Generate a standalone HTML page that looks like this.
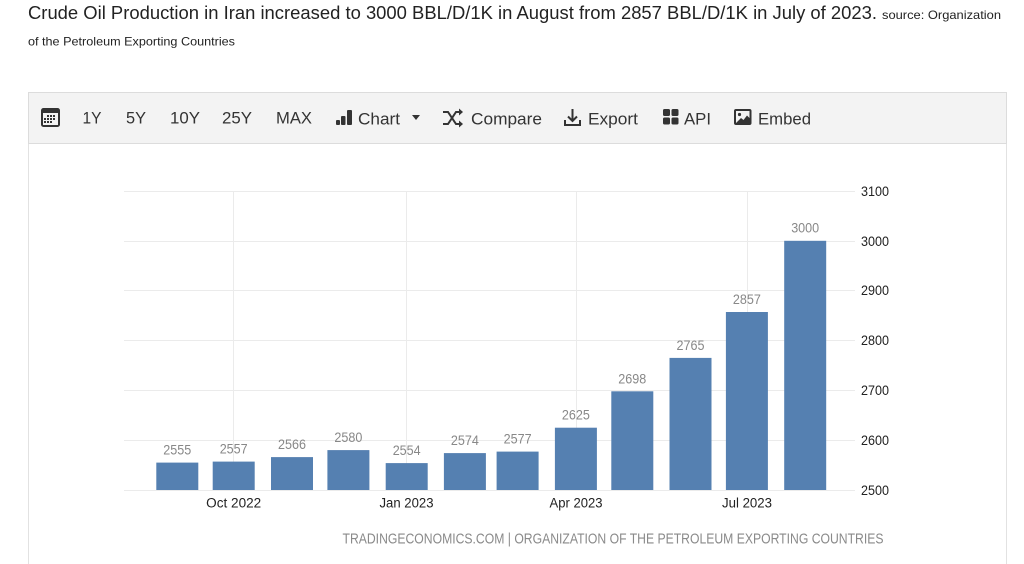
<!DOCTYPE html>
<html>
<head>
<meta charset="utf-8">
<style>
html,body{margin:0;padding:0;background:#fff;}
body{width:1024px;height:564px;overflow:hidden;}
svg{display:block;}
</style>
</head>
<body>
<svg width="1024" height="564" viewBox="0 0 1024 564" xmlns="http://www.w3.org/2000/svg" font-family="Liberation Sans, Arial, sans-serif">
  <rect x="0" y="0" width="1024" height="564" fill="#fff"/>
  <!-- Title -->
  <text x="28" y="19" font-size="18" fill="#222" textLength="849" lengthAdjust="spacingAndGlyphs">Crude Oil Production in Iran increased to 3000 BBL/D/1K in August from 2857 BBL/D/1K in July of 2023.</text>
  <text x="882" y="19" font-size="12" fill="#222" textLength="119" lengthAdjust="spacingAndGlyphs">source: Organization</text>
  <text x="28" y="45.5" font-size="12" fill="#222" textLength="207" lengthAdjust="spacingAndGlyphs">of the Petroleum Exporting Countries</text>

  <!-- Chart container -->
  <rect x="28.5" y="92.5" width="978" height="480" fill="#fff" stroke="#e2e2e2" stroke-width="1"/>
  <rect x="28.5" y="92.5" width="978" height="51" fill="#f3f3f3" stroke="#dcdcdc" stroke-width="1"/>

  <!-- Toolbar icons & labels -->
  <g fill="#333">
    <!-- calendar -->
    <rect x="41" y="108" width="19" height="19" rx="2.5" fill="#333"/>
    <rect x="43" y="113" width="15" height="12" fill="#f3f3f3"/>
    <g fill="#333">
      <rect x="47" y="115" width="2" height="2"/><rect x="50" y="115" width="2" height="2"/><rect x="53" y="115" width="2" height="2"/>
      <rect x="44" y="118" width="2" height="2"/><rect x="47" y="118" width="2" height="2"/><rect x="50" y="118" width="2" height="2"/><rect x="53" y="118" width="2" height="2"/>
      <rect x="44" y="121" width="2" height="2"/><rect x="47" y="121" width="2" height="2"/><rect x="50" y="121" width="2" height="2"/>
    </g>
    <text x="82.5" y="123.5" font-size="17" textLength="19" lengthAdjust="spacingAndGlyphs">1Y</text>
    <text x="126" y="123.5" font-size="17" textLength="20" lengthAdjust="spacingAndGlyphs">5Y</text>
    <text x="170" y="123.5" font-size="17" textLength="30" lengthAdjust="spacingAndGlyphs">10Y</text>
    <text x="222" y="123.5" font-size="17" textLength="30" lengthAdjust="spacingAndGlyphs">25Y</text>
    <text x="276" y="123.5" font-size="17" textLength="36" lengthAdjust="spacingAndGlyphs">MAX</text>
    <!-- chart icon -->
    <rect x="336" y="120" width="4" height="5" rx="1"/>
    <rect x="341" y="116" width="4.5" height="9" rx="1"/>
    <rect x="347" y="110" width="5" height="15" rx="1"/>
    <text x="358" y="124.5" font-size="17" textLength="42" lengthAdjust="spacingAndGlyphs">Chart</text>
    <path d="M412 115 L420 115 L416 120 Z"/>
    <!-- shuffle icon -->
    <g fill="none" stroke="#333" stroke-width="2">
      <path d="M443 112 L448 112 L456 124 L460 124"/>
      <path d="M443 124 L448 124 L456 112 L460 112"/>
    </g>
    <path d="M459 108.5 L463 112 L459 115.5 Z"/>
    <path d="M459 120.5 L463 124 L459 127.5 Z"/>
    <text x="471" y="124.5" font-size="17" textLength="71" lengthAdjust="spacingAndGlyphs">Compare</text>
    <!-- download -->
    <g fill="none" stroke="#333" stroke-width="2">
      <path d="M572.5 109 L572.5 121"/>
      <path d="M568 116.5 L572.5 121 L577 116.5"/>
      <path d="M565 120 L565 125 L580 125 L580 120"/>
    </g>
    <text x="588" y="124.5" font-size="17" textLength="50" lengthAdjust="spacingAndGlyphs">Export</text>
    <!-- API -->
    <rect x="663" y="109" width="7" height="7" rx="1.5"/>
    <rect x="671.5" y="109" width="7" height="7" rx="1.5"/>
    <rect x="663" y="117.5" width="7" height="7" rx="1.5"/>
    <rect x="671.5" y="117.5" width="7" height="7" rx="1.5"/>
    <text x="684" y="124.5" font-size="17" textLength="27" lengthAdjust="spacingAndGlyphs">API</text>
    <!-- embed image icon -->
    <rect x="734" y="109" width="17.5" height="16" rx="2"/>
    <rect x="736" y="111" width="13.5" height="12" fill="#f3f3f3"/>
    <circle cx="739.5" cy="114.5" r="1.6"/>
    <path d="M736 123 L741 118 L743.5 120 L747 115.5 L749.5 118 L749.5 123 Z"/>
    <text x="758" y="124.5" font-size="17" textLength="53" lengthAdjust="spacingAndGlyphs">Embed</text>
  </g>

  <!-- Gridlines -->
  <g stroke="#ebebeb" stroke-width="1">
    <line x1="124" y1="191.5" x2="855" y2="191.5"/>
    <line x1="124" y1="241.5" x2="855" y2="241.5"/>
    <line x1="124" y1="290.5" x2="855" y2="290.5"/>
    <line x1="124" y1="340.5" x2="855" y2="340.5"/>
    <line x1="124" y1="390.5" x2="855" y2="390.5"/>
    <line x1="124" y1="440.5" x2="855" y2="440.5"/>
    <line x1="124" y1="490.5" x2="855" y2="490.5"/>
    <line x1="233.5" y1="191" x2="233.5" y2="490"/>
    <line x1="406.5" y1="191" x2="406.5" y2="490"/>
    <line x1="576.5" y1="191" x2="576.5" y2="490"/>
    <line x1="747.5" y1="191" x2="747.5" y2="490"/>
  </g>

  <!-- Bars -->
  <g fill="#5580b1">
    <rect x="156.3" y="462.6" width="42" height="27.4"/>
    <rect x="212.7" y="461.6" width="42" height="28.4"/>
    <rect x="271.0" y="457.1" width="42" height="32.9"/>
    <rect x="327.4" y="450.1" width="42" height="39.9"/>
    <rect x="385.7" y="463.1" width="42" height="26.9"/>
    <rect x="443.9" y="453.1" width="42" height="36.9"/>
    <rect x="496.6" y="451.6" width="42" height="38.4"/>
    <rect x="554.9" y="427.7" width="42" height="62.3"/>
    <rect x="611.3" y="391.3" width="42" height="98.7"/>
    <rect x="669.5" y="357.9" width="42" height="132.1"/>
    <rect x="725.9" y="312.0" width="42" height="178.0"/>
    <rect x="784.2" y="240.8" width="42" height="249.2"/>
  </g>

  <!-- Value labels -->
  <g fill="#888" font-size="13.5" text-anchor="middle">
    <text x="177.3" y="454.6" textLength="28" lengthAdjust="spacingAndGlyphs">2555</text>
    <text x="233.7" y="453.6" textLength="28" lengthAdjust="spacingAndGlyphs">2557</text>
    <text x="292.0" y="449.1" textLength="28" lengthAdjust="spacingAndGlyphs">2566</text>
    <text x="348.4" y="442.1" textLength="28" lengthAdjust="spacingAndGlyphs">2580</text>
    <text x="406.7" y="455.1" textLength="28" lengthAdjust="spacingAndGlyphs">2554</text>
    <text x="464.9" y="445.1" textLength="28" lengthAdjust="spacingAndGlyphs">2574</text>
    <text x="517.6" y="443.6" textLength="28" lengthAdjust="spacingAndGlyphs">2577</text>
    <text x="575.9" y="419.7" textLength="28" lengthAdjust="spacingAndGlyphs">2625</text>
    <text x="632.3" y="383.3" textLength="28" lengthAdjust="spacingAndGlyphs">2698</text>
    <text x="690.5" y="349.9" textLength="28" lengthAdjust="spacingAndGlyphs">2765</text>
    <text x="746.9" y="304.0" textLength="28" lengthAdjust="spacingAndGlyphs">2857</text>
    <text x="805.2" y="232.6" textLength="28" lengthAdjust="spacingAndGlyphs">3000</text>
  </g>

  <!-- Y axis labels -->
  <g fill="#222" font-size="13.5">
    <text x="861" y="196" textLength="28" lengthAdjust="spacingAndGlyphs">3100</text>
    <text x="861" y="246" textLength="28" lengthAdjust="spacingAndGlyphs">3000</text>
    <text x="861" y="295" textLength="28" lengthAdjust="spacingAndGlyphs">2900</text>
    <text x="861" y="345" textLength="28" lengthAdjust="spacingAndGlyphs">2800</text>
    <text x="861" y="395" textLength="28" lengthAdjust="spacingAndGlyphs">2700</text>
    <text x="861" y="445" textLength="28" lengthAdjust="spacingAndGlyphs">2600</text>
    <text x="861" y="495" textLength="28" lengthAdjust="spacingAndGlyphs">2500</text>
  </g>

  <!-- X axis labels -->
  <g fill="#222" font-size="13.5" text-anchor="middle">
    <text x="233.7" y="507.5" textLength="55" lengthAdjust="spacingAndGlyphs">Oct 2022</text>
    <text x="406.5" y="507.5" textLength="54" lengthAdjust="spacingAndGlyphs">Jan 2023</text>
    <text x="576" y="507.5" textLength="53" lengthAdjust="spacingAndGlyphs">Apr 2023</text>
    <text x="747" y="507.5" textLength="50" lengthAdjust="spacingAndGlyphs">Jul 2023</text>
  </g>

  <!-- Footer -->
  <text x="342.5" y="543.5" font-size="14.5" fill="#8a8a8a" textLength="541" lengthAdjust="spacingAndGlyphs">TRADINGECONOMICS.COM | ORGANIZATION OF THE PETROLEUM EXPORTING COUNTRIES</text>
</svg>
</body>
</html>
